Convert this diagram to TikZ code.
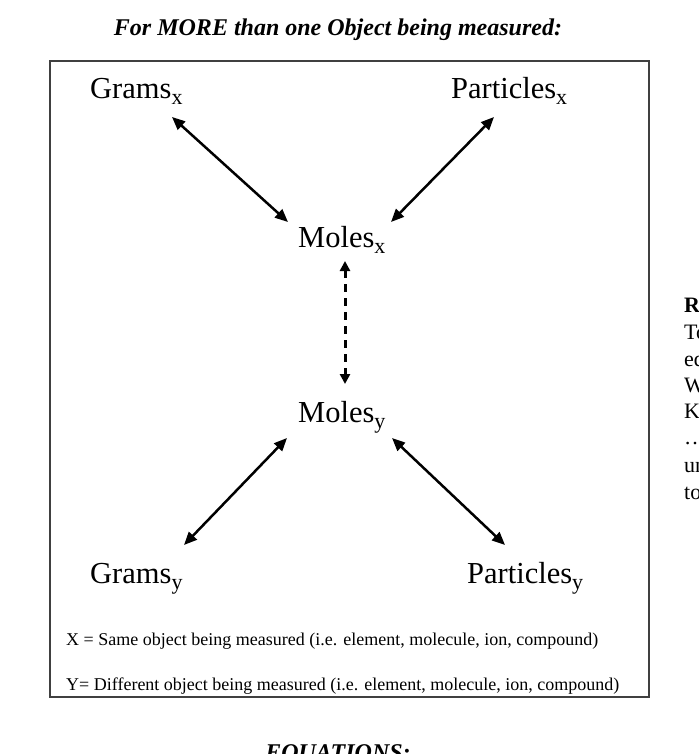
\documentclass[tikz,border=0pt]{standalone}
\usepackage{fontspec}
\setmainfont{Liberation Serif}
\usetikzlibrary{arrows.meta,calc}
\newcommand{\lowsub}[1]{\raisebox{-6pt}{\fontsize{22}{22}\selectfont #1}}
\tikzset{
  lbl/.style={inner sep=0pt, anchor=base west, font=\fontsize{30.5}{32}\selectfont},
  note/.style={inner sep=0pt, anchor=base west, font=\fontsize{18}{20}\selectfont},
  side/.style={inner sep=0pt, anchor=base west, font=\fontsize{22}{24}\selectfont},
  hdr/.style={inner sep=0pt, anchor=base, font=\fontsize{24}{26}\selectfont\bfseries\itshape},
  link/.style={line width=2.5pt, {Triangle[length=13pt,width=11pt]}-{Triangle[length=13pt,width=11pt]}},
  dlink/.style={line width=3pt, dash pattern=on 8pt off 6pt, {Triangle[length=10pt,width=10pt]}-{Triangle[length=10pt,width=10pt]}}
}
\begin{document}
\begin{tikzpicture}[x=1pt,y=-1pt]
\useasboundingbox (0,0) rectangle (698,754);
\fill[white] (0,0) rectangle (698,754);
\node[hdr] (title) at (338,36) {For MORE than one Object being measured:};
\draw[line width=2pt, black!75] (50,61) rectangle (649,697);
\node[lbl] (gx) at (90,99) {Grams\lowsub{x}};
\node[lbl] (px) at (451,99) {Particles\lowsub{x}};
\node[lbl] (mx) at (298,247) {Moles\lowsub{x}};
\node[lbl] (my) at (298,422) {Moles\lowsub{y}};
\node[lbl] (gy) at (90,583) {Grams\lowsub{y}};
\node[lbl] (py) at (467,583) {Particles\lowsub{y}};
\node[note] (nx) at (66,645) {X = Same object being measured (i.e. element, molecule, ion, compound)};
\node[note] (ny) at (66,690) {Y= Different object being measured (i.e. element, molecule, ion, compound)};
\node[hdr] (eq) at (338,760) {EQUATIONS:};
\draw[link] ($(gx.base west)+(82,18)$) -- ($(mx.base west)+(-10,-25)$);
\draw[link] ($(px.base west)+(43,18)$) -- ($(mx.base west)+(93,-25)$);
\draw[dlink] ($(mx.base west)+(47,14)$) -- ($(my.base west)+(47,-38)$);
\draw[link] ($(my.base west)+(-11,16)$) -- ($(gy.base west)+(94,-38)$);
\draw[link] ($(my.base west)+(94,16)$) -- ($(py.base west)+(38,-38)$);
\node[side,font=\fontsize{22}{24}\selectfont\bfseries] (r0) at (684,312) {R};
\node[side] (r1) at (684,339) {To};
\node[side] (r2) at (684,366) {eq};
\node[side] (r3) at (684,392) {W};
\node[side] (r4) at (684,418) {K};
\node[side] (r5) at (684,444) {\dots};
\node[side] (r6) at (684,472) {un};
\node[side] (r7) at (684,499) {to};
\end{tikzpicture}
\end{document}
